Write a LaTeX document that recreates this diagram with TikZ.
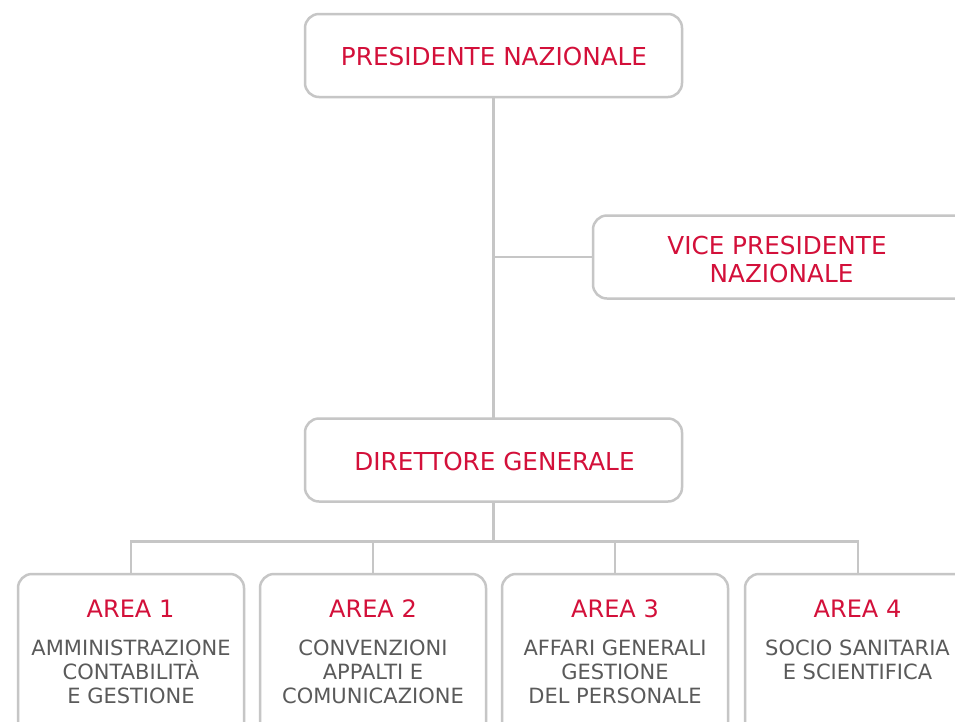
\documentclass[tikz,border=0pt]{standalone}
\usepackage{fontspec}
\setmainfont{DejaVu Sans}
\definecolor{redtxt}{HTML}{D3103A}
\definecolor{graytxt}{HTML}{5A5A5A}
\definecolor{bordergray}{HTML}{C6C6C6}
\begin{document}
\begin{tikzpicture}[x=1pt,y=-1pt,
  box/.style={draw=bordergray, line width=2.5pt, rounded corners=14pt, fill=white, inner sep=0pt, outer sep=0pt},
  bigbox/.style={box, minimum width=377pt, minimum height=83pt},
  areabox/.style={box, minimum width=226pt, minimum height=166pt},
  conn/.style={draw=bordergray, line width=2.5pt},
  redlbl/.style={text=redtxt, font=\fontsize{24}{28}\selectfont, anchor=base, inner sep=0pt},
  redbig/.style={redlbl, font=\fontsize{24.7}{28}\selectfont},
  graylbl/.style={text=graytxt, font=\fontsize{21}{24}\selectfont, anchor=base, inner sep=0pt}]
\useasboundingbox (0,0) rectangle (955,721);
\clip (0,0) rectangle (955,721);
\fill[white] (0,0) rectangle (955,721);

% boxes
\node[bigbox] (pres) at (493.5,55.5) {};
\node[bigbox] (vice) at (781.5,257) {};
\node[bigbox] (dir) at (493.5,460) {};
\node[areabox] (a1) at (131,657) {};
\node[areabox] (a2) at (373,657) {};
\node[areabox] (a3) at (615,657) {};
\node[areabox] (a4) at (858,657) {};

% connectors
\draw[conn] (pres.south) -- (dir.north);
\draw[conn] (pres.south |- vice.west) -- (vice.west);
\draw[conn] (dir.south) -- ++(0,40) coordinate (bj);
\draw[conn] (a1.north) |- (a4.north |- bj) -- (a4.north);
\draw[conn] (a2.north) -- (a2.north |- bj);
\draw[conn] (a3.north) -- (a3.north |- bj);

% texts
\node[redbig] (tpres) at (494,65) {PRESIDENTE NAZIONALE};
\node[redbig] (tvice1) at (777,254) {VICE PRESIDENTE};
\node[redbig] (tvice2) at (781.5,282) {NAZIONALE};
\node[redbig] (tdir) at (494.5,470) {DIRETTORE GENERALE};

\node[redlbl] (t1) at (130.5,617) {AREA 1};
\node[graylbl] (t1a) at (131,655) {AMMINISTRAZIONE};
\node[graylbl] (t1b) at (131,679) {CONTABILITÀ};
\node[graylbl] (t1c) at (131,703) {E GESTIONE};

\node[redlbl] (t2) at (373,617) {AREA 2};
\node[graylbl] (t2a) at (373,655) {CONVENZIONI};
\node[graylbl] (t2b) at (373,679) {APPALTI E};
\node[graylbl] (t2c) at (373,703) {COMUNICAZIONE};

\node[redlbl] (t3) at (615,617) {AREA 3};
\node[graylbl] (t3a) at (615,655) {AFFARI GENERALI};
\node[graylbl] (t3b) at (615,679) {GESTIONE};
\node[graylbl] (t3c) at (615,703) {DEL PERSONALE};

\node[redlbl] (t4) at (857.5,617) {AREA 4};
\node[graylbl] (t4a) at (857.5,655) {SOCIO SANITARIA};
\node[graylbl] (t4b) at (857.5,679) {E SCIENTIFICA};
\end{tikzpicture}
\end{document}
